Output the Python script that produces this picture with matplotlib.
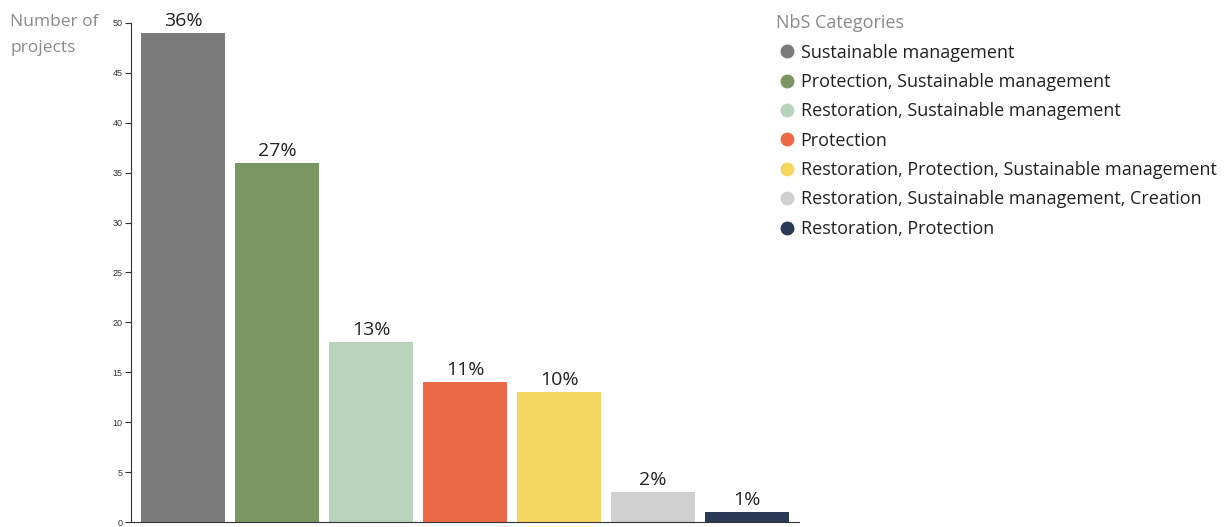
import matplotlib.pyplot as plt
from matplotlib.lines import Line2D

categories = [
    "Sustainable management",
    "Protection, Sustainable management",
    "Restoration, Sustainable management",
    "Protection",
    "Restoration, Protection, Sustainable management",
    "Restoration, Sustainable management, Creation",
    "Restoration, Protection",
]
projects = [49, 36, 18, 14, 13, 3, 1]
share_labels = ["36%", "27%", "13%", "11%", "10%", "2%", "1%"]
colors = ["#7b7b7b", "#7a9663", "#b8d4bc", "#ec6a45", "#f5d862", "#d0d0d0", "#2b3a57"]

FONT = ["Open Sans", "DejaVu Sans"]

fig = plt.figure(figsize=(12.25, 5.27), dpi=100)
ax = fig.add_axes([131 / 1225, 5 / 527, 668 / 1225, 499 / 527])

xs = range(len(projects))
ax.bar(xs, projects, width=0.894, color=colors)
for x, v, lab in zip(xs, projects, share_labels):
    ax.text(x, v + 0.3, lab, ha="center", va="bottom", fontsize=14,
            family=FONT, color="#222222")

ax.set_xlim(-0.553, 6.553)
ax.set_ylim(0, 50)
ax.set_yticks(range(0, 51, 5))
ax.set_xticks([])
ax.tick_params(axis="y", labelsize=6.5, colors="#333333", length=4, width=0.8, pad=2)
for lab in ax.get_yticklabels():
    lab.set_family("Liberation Sans")
for s in ("top", "right"):
    ax.spines[s].set_visible(False)
ax.spines["left"].set_color("#333333")
ax.spines["bottom"].set_color("#333333")

fig.text(10 / 1225, 1 - 35 / 527, "Number of\nprojects", ha="left", va="center",
         fontsize=12.5, family=FONT, color="#8a8a8a", linespacing=1.8)

# legend of categories
handles = [Line2D([], [], marker="o", linestyle="none", markersize=9,
                  markerfacecolor=c, markeredgecolor=c) for c in colors]
leg = fig.legend(handles, categories, loc="upper left",
                 bbox_to_anchor=(769 / 1225, 1 - 7 / 527), frameon=False,
                 title="NbS Categories", alignment="left",
                 prop={"family": FONT, "size": 13}, labelspacing=0.63,
                 handletextpad=0.15, handlelength=1.2, borderaxespad=0)
leg.get_title().set_color("#8a8a8a")
leg.get_title().set_family(FONT)
leg.get_title().set_fontsize(13)
for t in leg.get_texts():
    t.set_color("#222222")

fig.savefig("out.png", dpi=100)
